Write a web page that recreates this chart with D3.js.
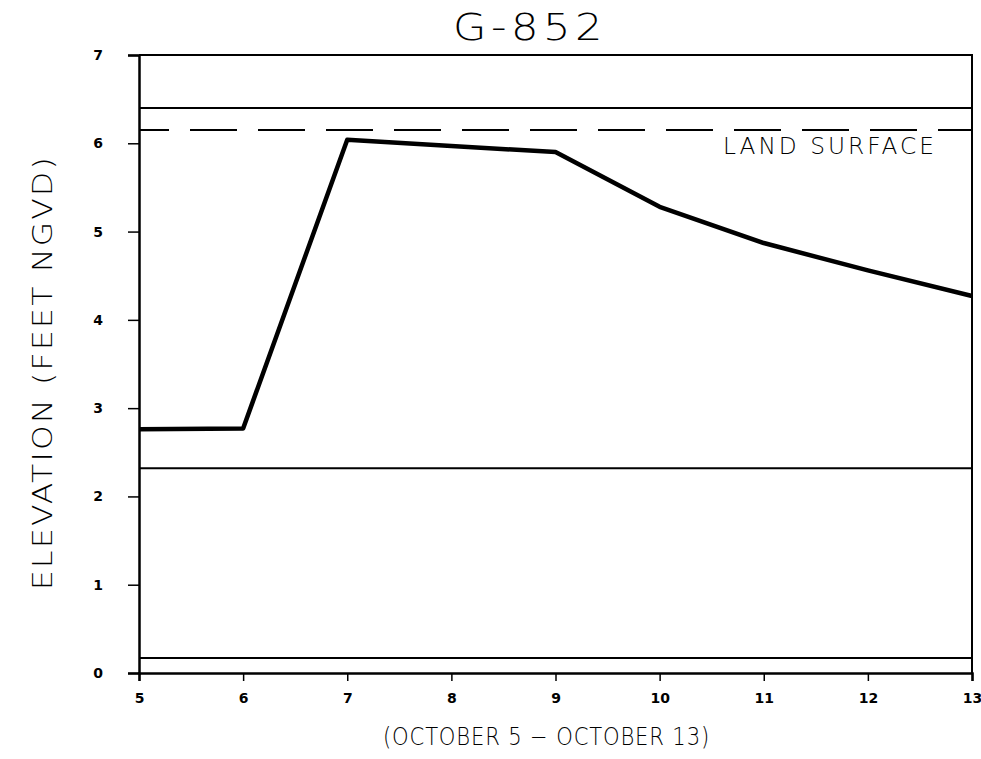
<!DOCTYPE html>
<html>
<head>
<meta charset="utf-8">
<script src="https://cdn.jsdelivr.net/npm/d3@7"></script>
<style>
  html, body { margin: 0; padding: 0; background: #fff; }
  svg { display: block; }
</style>
</head>
<body>
<script>
// Daily water level at well G-852, October 5-13
const days = [5, 6, 7, 8, 9, 10, 11, 12, 13];
const elevation = [2.76, 2.77, 6.04, 5.97, 5.90, 5.28, 4.87, 4.56, 4.27];

// Reference levels drawn across the plot
const solidLevels = [6.40, 2.32, 0.17];
const landSurface = 6.15;

const xTicks = [5, 6, 7, 8, 9, 10, 11, 12, 13];
const yTicks = [0, 1, 2, 3, 4, 5, 6, 7];

const width = 981, height = 759;
const margin = { left: 139, right: 9, top: 55, bottom: 86 };

const svg = d3.select("body").append("svg")
  .attr("width", width).attr("height", height);

const x = d3.scaleLinear().domain([5, 13]).range([margin.left, width - margin.right]);
const y = d3.scaleLinear().domain([0, 7]).range([height - margin.bottom, margin.top]);

const font = "'DejaVu Sans', 'Liberation Sans', sans-serif";

// Frame: top and right edges
svg.append("path")
  .attr("d", `M${x(5)},${y(7)}H${x(13)}V${y(0)}`)
  .attr("fill", "none").attr("stroke", "#000").attr("stroke-width", 2);

// Axes
const xAxis = d3.axisBottom(x).tickValues(xTicks).tickSize(8).tickPadding(12)
  .tickFormat(d3.format("d"));
const gx = svg.append("g").attr("transform", `translate(0,${y(0)})`).call(xAxis);
gx.select(".domain").attr("stroke-width", 2.5);
gx.selectAll(".tick line").attr("stroke-width", 1.5);
gx.selectAll(".tick text").attr("font-family", font).attr("font-size", 14)
  .attr("font-weight", "bold").attr("fill", "#000");

const yAxis = d3.axisLeft(y).tickValues(yTicks).tickSize(11).tickPadding(30)
  .tickFormat(d3.format("d"));
const gy = svg.append("g").attr("transform", `translate(${x(5)},0)`).call(yAxis);
gy.select(".domain").attr("stroke-width", 2.5);
gy.selectAll(".tick line").attr("stroke-width", 1.5);
gy.selectAll(".tick text").attr("font-family", font).attr("font-size", 14)
  .attr("font-weight", "bold").attr("fill", "#000").attr("text-anchor", "middle");

// Solid reference lines
svg.selectAll("line.level").data(solidLevels).join("line")
  .attr("class", "level")
  .attr("x1", x(5)).attr("x2", x(13))
  .attr("y1", d => y(d)).attr("y2", d => y(d))
  .attr("stroke", "#000").attr("stroke-width", 2);

// Land surface (dashed)
svg.append("line")
  .attr("x1", x(5)).attr("x2", x(13))
  .attr("y1", y(landSurface)).attr("y2", y(landSurface))
  .attr("stroke", "#000").attr("stroke-width", 2)
  .attr("stroke-dasharray", "47,21").attr("stroke-dashoffset", 17);

svg.append("text")
  .attr("x", 723).attr("y", y(landSurface) + 24)
  .attr("font-family", font).attr("font-size", 23).attr("font-weight", 300)
  .attr("letter-spacing", 3)
  .attr("textLength", 214).attr("lengthAdjust", "spacingAndGlyphs")
  .text("LAND SURFACE");

// Water level series
const line = d3.line().x((d, i) => x(days[i])).y(d => y(d));
svg.append("path")
  .datum(elevation)
  .attr("d", line)
  .attr("fill", "none").attr("stroke", "#000").attr("stroke-width", 4.5)
  .attr("stroke-linejoin", "round");

// Titles
svg.append("text")
  .attr("x", 453).attr("y", 40)
  .attr("font-family", font).attr("font-size", 38).attr("font-weight", 200)
  .attr("letter-spacing", 4)
  .attr("textLength", 154).attr("lengthAdjust", "spacingAndGlyphs")
  .text("G-852");

svg.append("text")
  .attr("transform", `translate(52,590) rotate(-90)`)
  .attr("font-family", font).attr("font-size", 27).attr("font-weight", 300)
  .attr("letter-spacing", 2)
  .attr("textLength", 435).attr("lengthAdjust", "spacingAndGlyphs")
  .text("ELEVATION (FEET NGVD)");

svg.append("text")
  .attr("x", 383).attr("y", 745)
  .attr("font-family", font).attr("font-size", 25).attr("font-weight", 300)
  .attr("letter-spacing", 1)
  .attr("textLength", 327).attr("lengthAdjust", "spacingAndGlyphs")
  .text("(OCTOBER 5 \u2212 OCTOBER 13)");
</script>
</body>
</html>
